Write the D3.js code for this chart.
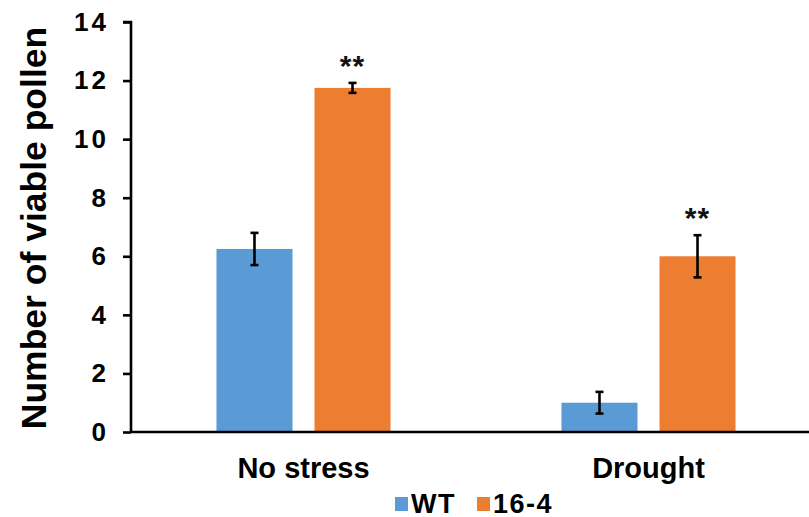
<!DOCTYPE html>
<html>
<head>
<meta charset="utf-8">
<script src="https://cdn.jsdelivr.net/npm/d3@7"></script>
<style>
  html, body { margin: 0; padding: 0; background: #fff; }
  svg { display: block; font-family: "Liberation Sans", Arial, sans-serif; font-weight: bold; }
</style>
</head>
<body>
<svg id="chart" width="809" height="517"></svg>
<script>
// Viable pollen counts by condition and genotype
const categories = ["No stress", "Drought"];
const seriesNames = ["WT", "16-4"];
const seriesColors = ["#5B9BD5", "#ED7D31"];
const wtValues = [6.25, 1.0];
const wtErrors = [0.55, 0.37];
const lineValues = [11.75, 6.0];
const lineErrors = [0.17, 0.72];
const significance = ["**", "**"];
const yTicks = [0, 2, 4, 6, 8, 10, 12, 14];

const svg = d3.select("#chart");
const W = 809, H = 517;
const margin = { left: 131, right: -12, top: 22, bottom: 85 };

// The category axis runs slightly past the right edge of the canvas
const x = d3.scaleBand()
  .domain(categories)
  .range([margin.left, W - margin.right])
  .paddingInner(0)
  .paddingOuter(0);

const xInner = d3.scaleBand()
  .domain(seriesNames)
  .range([0, x.bandwidth()])
  .paddingInner(0.2245)
  .paddingOuter(0.872);

const y = d3.scaleLinear().domain([0, 14]).range([H - margin.bottom, margin.top]);

const rows = categories.map((c, i) => ({
  cat: c,
  vals: [
    { s: seriesNames[0], v: wtValues[i], e: wtErrors[i], color: seriesColors[0] },
    { s: seriesNames[1], v: lineValues[i], e: lineErrors[i], color: seriesColors[1] }
  ],
  sig: significance[i]
}));

// Bars
const groups = svg.selectAll("g.grp").data(rows).join("g")
  .attr("class", "grp")
  .attr("transform", d => `translate(${x(d.cat)},0)`);

groups.selectAll("rect").data(d => d.vals).join("rect")
  .attr("x", d => xInner(d.s))
  .attr("y", d => y(d.v))
  .attr("width", xInner.bandwidth())
  .attr("height", d => y(0) - y(d.v))
  .attr("fill", d => d.color);

// Error bars
const capW = 4;
const cx = d => xInner(d.s) + xInner.bandwidth() / 2;
const eb = groups.selectAll("g.err").data(d => d.vals).join("g")
  .attr("class", "err")
  .attr("stroke", "#000")
  .attr("stroke-width", 2.6);
eb.append("line")
  .attr("x1", cx).attr("x2", cx)
  .attr("y1", d => y(d.v + d.e))
  .attr("y2", d => y(d.v - d.e));
eb.append("line")
  .attr("x1", d => cx(d) - capW).attr("x2", d => cx(d) + capW)
  .attr("y1", d => y(d.v + d.e)).attr("y2", d => y(d.v + d.e));
eb.append("line")
  .attr("x1", d => cx(d) - capW).attr("x2", d => cx(d) + capW)
  .attr("y1", d => y(d.v - d.e)).attr("y2", d => y(d.v - d.e));

// Significance marks above the transgenic line
groups.append("text")
  .attr("x", d => cx(d.vals[1]))
  .attr("y", d => y(d.vals[1].v + d.vals[1].e) - 7)
  .attr("text-anchor", "middle")
  .attr("font-size", 30)
  .attr("letter-spacing", 1)
  .attr("fill", "#111")
  .text(d => d.sig);

// Y axis
const yAxis = svg.append("g")
  .attr("transform", `translate(${margin.left},0)`)
  .call(d3.axisLeft(y).tickValues(yTicks).tickSize(8).tickPadding(14).tickFormat(d3.format("d")));
yAxis.selectAll("path, line").attr("stroke", "#000").attr("stroke-width", 2.6);
yAxis.select("path").attr("d", `M-8,${y(14)}H0V${y(0)}`);
yAxis.selectAll("text").attr("font-size", 26).attr("fill", "#000")
  .attr("letter-spacing", 3)
  .attr("font-family", "Liberation Sans, Arial, sans-serif").attr("font-weight", "bold");

// X axis
const xAxis = svg.append("g")
  .attr("transform", `translate(0,${y(0)})`)
  .call(d3.axisBottom(x).tickSize(0).tickPadding(25));
xAxis.select("path").attr("stroke", "#000").attr("stroke-width", 2.6)
  .attr("d", `M${margin.left},0H${W - margin.right}`);
xAxis.selectAll("text").attr("font-size", 29).attr("fill", "#000")
  .attr("font-family", "Liberation Sans, Arial, sans-serif").attr("font-weight", "bold");

// Y axis title
svg.append("text")
  .attr("transform", `translate(46,${(y(0) + y(14)) / 2 + 1}) rotate(-90)`)
  .attr("text-anchor", "middle")
  .attr("font-size", 35.5)
  .attr("fill", "#000")
  .text("Number of viable pollen");

// Legend
const legend = svg.append("g").attr("transform", "translate(395,504)");
const legendX = [0, 82];
seriesNames.forEach((s, i) => {
  const g = legend.append("g").attr("transform", `translate(${legendX[i]},0)`);
  g.append("rect").attr("x", 0).attr("y", -7).attr("width", 13).attr("height", 14).attr("fill", seriesColors[i]);
  g.append("text").attr("x", 16).attr("y", 8.5).attr("font-size", 27)
    .attr("letter-spacing", 1.5).attr("fill", "#000").text(s);
});
</script>
</body>
</html>
